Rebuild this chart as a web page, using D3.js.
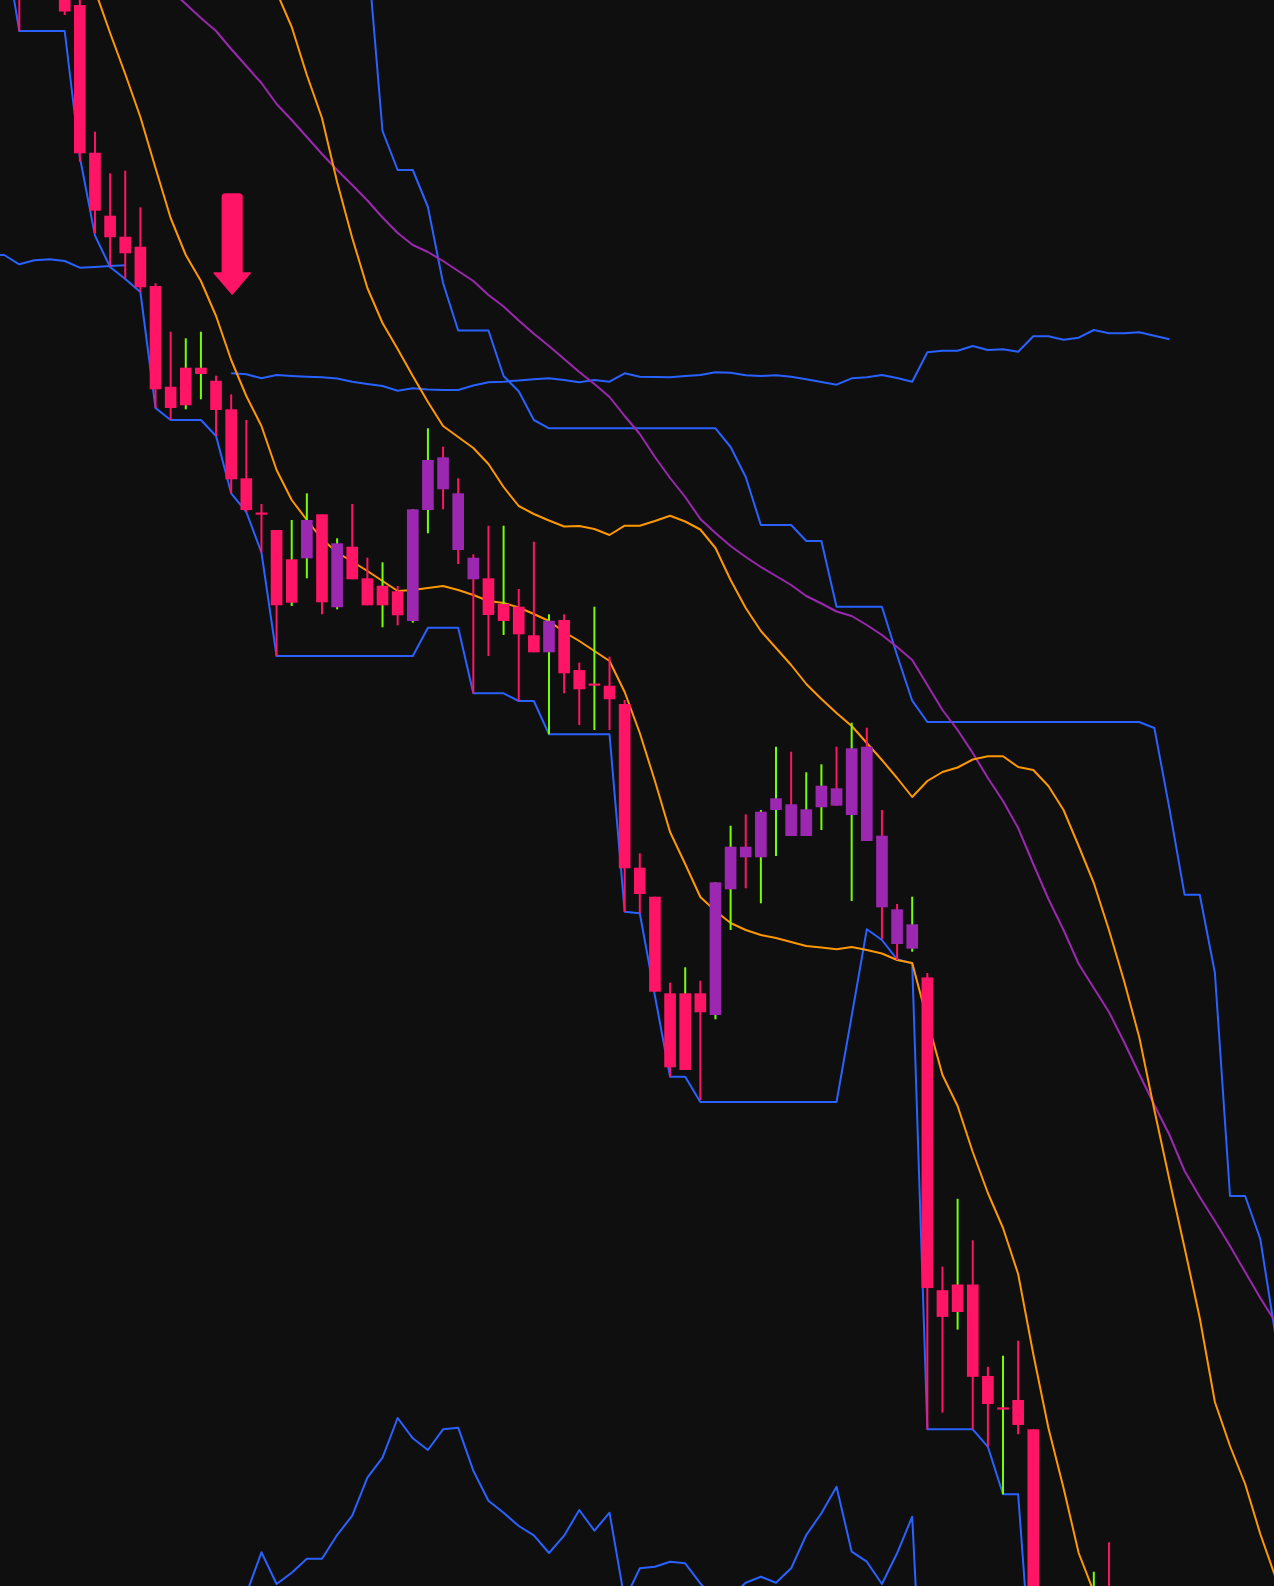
<!DOCTYPE html>
<html><head><meta charset="utf-8">
<script src="https://cdn.jsdelivr.net/npm/d3@7"></script>
<style>html,body{margin:0;padding:0;background:#0f0f0f;overflow:hidden}svg{display:block}</style>
</head><body>
<svg id="chart" width="1274" height="1586"></svg>
<script>
// ---------- DATA (bar index 0..72 for candles) ----------
const opens = [2080,2060,2040,2025,1995,1847.3,1784.3,1763.3,1753.3,1714,
1613.3,1632.3,1632.3,1619.3,1590.7,1521.7,1487.5,1470,1440.7,1441.7,
1485.7,1392.7,1453.3,1421.7,1414.3,1408.7,1379,1490,1510.7,1450,
1420.7,1421.7,1396,1393.3,1364.7,1347.7,1380,1330,1316.5,1314.3,
1296,1132.3,1103.3,1006.7,1006.7,1006.7,985,1110.7,1142.7,1142.7,
1190,1164,1164,1192.7,1194.3,1185,1159,1092.7,1056,1051.3,
1022.6,709.8,715.5,715.5,624,592.6,600,570.7,300,250,
230,390,380];
const highs = [2100,2090,2050,2035,2008,1868.3,1826.7,1829.3,1792.7,1716.7,
1668.3,1661.7,1668.3,1624.3,1605.7,1580,1496,1470,1480,1506.7,
1485.7,1461.7,1496,1442.3,1437.7,1414,1490.7,1571.7,1553.3,1521.7,
1445.7,1474.3,1474.3,1411,1458.3,1385.7,1385.7,1337.3,1393.3,1343.3,
1300,1146.7,1103.3,1017.3,1032.7,1019.3,1117.7,1174.3,1185.7,1190,
1253.3,1248.3,1227.7,1235.7,1253.3,1277.3,1272.3,1190,1096,1103.3,
1027,733.4,801.2,759.7,633.2,644.3,659.3,570.7,350,360,
380,428.3,457.7];
const lows = [1969,2010,2005,1985,1838.3,1766.7,1733.3,1721.7,1708,1592,
1580,1590.7,1600.7,1564,1506.7,1488,1447.5,1344,1394,1421.7,
1385.7,1390.7,1420.7,1394.7,1372.7,1374.7,1377.3,1466.7,1490.7,1436,
1306.7,1344,1365,1299,1347.7,1265.7,1306.7,1275,1270,1270,
1088,1086.7,1008.3,923.3,930,900,980.7,1070,1111.7,1096.7,
1144,1164,1164,1170,1194.3,1099,1159,1060.7,1040,1048.3,
570.7,587.3,670.4,570.7,553.2,505.7,565.7,280,200,180,
170,300,280];
const closes = [2040,2020,2015,1988.5,1846.7,1789.3,1762.7,1746.7,1712.7,1610.7,
1592,1594.7,1626,1590,1520.7,1490,1485.5,1394.7,1397.3,1480,
1397.7,1456.7,1420.7,1394.7,1394.7,1384.7,1490.7,1540,1542.7,1506.7,
1442.3,1385,1379,1365.7,1347.7,1379.3,1326.7,1310.7,1314.5,1300.7,
1131.7,1106,1008.3,932.7,930,987.7,1117.7,1153.3,1153.3,1188.3,
1201.7,1195.7,1190.7,1214.3,1211.7,1251.7,1253.3,1164.3,1090.7,1075.7,
712,683.1,688,623.2,596,590.8,575,300,240,220,
200,360,320];
// wick signal: 1 = up (green), 0 = down (pink)
const wickUp = [0,0,0,0,0,0,0,0,0,0,
0,1,1,0,0,0,0,0,1,1,
0,1,0,0,1,0,1,1,0,0,
0,0,1,0,0,1,0,0,1,0,
0,0,0,0,1,0,1,1,0,1,
1,0,1,1,0,1,0,0,0,1,
0,0,1,0,0,1,0,0,0,0,
0,1,0];

// Lines: each has a start bar index
const fastMAStart = 4;
const fastMA = [2060,2010,1967,1926,1883,1832,1782,1745,1719,1684,
1640,1604,1574,1530,1500,1480,1461,1447.5,1438.5,1429,
1419,1409,1410,1412,1414,1410,1405,1399,1397,1392.5,
1386,1379,1368,1359,1349,1339,1308,1267,1219,1168,
1136,1103,1089,1077,1070,1065,1062,1058,1054,1052.5,
1050.7,1053,1050,1046.5,1040,1037,980,925,894,848,
807,772,726,646,572,512,447,408,360];

const slowMAStart = 16;
const slowMA = [2045,2008,1973,1925,1882,1818,1762,1712,1677,1651,
1624,1598,1574,1563,1552,1536,1513,1494,1486,1479.5,
1473.5,1474,1471,1465,1474.3,1474.3,1479,1484.3,1478.5,1470.5,
1452,1420,1392,1369,1352,1335,1316,1301,1287,1274,
1257,1240,1222,1203,1219,1228,1232.5,1240.5,1243.7,1243.7,
1233,1230,1214,1190,1154,1117,1070,1019,963,890,
820,752,682,598,554,516,466,423];

const longMAStart = 9;
const longMA = [2025,2010,1996,1982,1969,1951,1934,1917,1896,1880,
1863,1846,1830,1815,1799.5,1782.5,1767,1755,1748,1739,
1729,1719,1705,1693.5,1679.5,1666.3,1654,1641,1628,1616,
1603,1584,1566,1543,1522,1503,1481,1467,1454,1443,
1433,1424,1415,1404,1396.5,1388.5,1384,1375,1365,1353,
1340,1315,1290,1270,1247,1222,1199,1172,1136,1101,
1070,1036,1012,988,958,926,895,865,829,803,
779,754,728,702,678];

const upperBandStart = 22;
const upperBand = [2150,2050,1869,1830,1830,1793,1717,1669.5,1669.5,1669.5,
1624,1608.7,1580,1571.7,1571.7,1571.7,1571.7,1571.7,1571.7,1571.7,
1571.7,1571.7,1571.7,1571.7,1571.7,1553,1523,1475,1475,1475,
1459,1459,1393.3,1393.3,1393.3,1393.3,1344.8,1299.3,1278,1278,
1278,1278,1278,1278,1278,1278,1278,1278,1278,1278,
1278,1278,1278,1272,1191.1,1105.2,1105.2,1027.3,804,804,
761,665];

const lowerBandStart = -1;
const lowerBand = [2060,1969,1969,1969,1969,1843,1764.4,1733,1721,1708,
1592,1580,1580,1580,1564,1506.7,1488,1447.5,1344,1344,
1344,1344,1344,1344,1344,1344,1344,1344,1372.3,1372.3,
1372.3,1306.7,1306.7,1306.7,1299,1299,1265.7,1265.7,1265.7,1265.7,
1265.7,1088.3,1086.7,1004,923.3,923.3,898,898,898,898,
898,898,898,898,898,898,984,1070.7,1060,1040.7,
1036.6,570.7,570.7,570.7,570.7,553.2,505.7,505.7,300,280,
270,260];

// baseline line (null = gap)
const baseLineStart = -2;
const baseLine = [1745,1745,1735.7,1739.7,1740.7,1739,1732.3,1733,1734,1734.7,
null,null,null,null,null,null,
1626.7,1625.7,1621.7,1625,1624,1623.3,1622.7,1621.5,1618.3,1616,
1614,1609.3,1611.7,1610.5,1610,1610,1614.5,1617.7,1618.3,1619.5,
1620.7,1621.7,1620,1617.7,1620,1618.3,1626.7,1623.3,1623,1622.7,
1624,1625,1627.7,1627.3,1624.7,1624,1624.7,1623.3,1620.7,1618,
1615.3,1621.7,1622.7,1625,1622,1618.3,1647.7,1649.3,1649.3,1654,
1650,1650.7,1648.3,1663.7,1663.7,1660.3,1662.3,1670,1666.7,1666.7,
1667.7,1664.3,1660.7];

const oscStart = 13;
const osc = [380,370,406,447.7,416,427.3,441.3,441.3,465,484.3,
522.3,542.3,582,561.7,550,570.7,572.3,529.3,499.3,487.3,
474,464.7,447,464.3,490,469.3,487.3,400,431.7,433.3,
438.3,436.7,416.7,400,403,417.3,423.3,417.3,431.7,465,
486.7,513.3,448.3,438.3,416,446.7,483.3,180,190,175,
185,170,160,150];

// sell signal marker
const signalBars = [14];
const signalPrices = [1706];

// ---------- CHART ----------
const W = 1274, H = 1586;
const svg = d3.select('#chart');
svg.append('rect').attr('width', W).attr('height', H).attr('fill', '#0f0f0f');

const x = d3.scaleLinear().domain([0, 83]).range([19.3, 19.3 + 15.134 * 83]);
const y = d3.scaleLinear().domain([2000, 414]).range([0, 1586]);
const step = x(1) - x(0);
const bodyW = step * 0.77;

const COL = {pink:'#ff1466', purple:'#9c27b0', green:'#76ff03', blue:'#2962ff', orange:'#ff9800'};

function toPts(start, arr){ return arr.map((v,k)=>({i:start+k, v:v})); }
const line = d3.line().defined(d => d.v != null).x(d => x(d.i)).y(d => y(d.v));

const gLines = svg.append('g');
const series = [
  {s: baseLineStart, a: baseLine, c: COL.blue},
  {s: oscStart, a: osc, c: COL.blue},
  {s: upperBandStart, a: upperBand, c: COL.blue},
  {s: lowerBandStart, a: lowerBand, c: COL.blue},
  {s: longMAStart, a: longMA, c: COL.purple},
  {s: slowMAStart, a: slowMA, c: COL.orange},
  {s: fastMAStart, a: fastMA, c: COL.orange}
];
series.forEach(sr => {
  gLines.append('path').datum(toPts(sr.s, sr.a))
    .attr('d', line).attr('fill', 'none').attr('stroke', sr.c)
    .attr('stroke-width', 2).attr('stroke-linejoin', 'round');
});

const candles = opens.map((o,i)=>({i, o, h: highs[i], l: lows[i], c: closes[i], up: wickUp[i]}));
const gC = svg.append('g');
gC.selectAll('line.wick').data(candles).join('line')
  .attr('class','wick')
  .attr('x1', d => x(d.i)).attr('x2', d => x(d.i))
  .attr('y1', d => y(d.h)).attr('y2', d => y(d.l))
  .attr('stroke', d => d.up ? COL.green : COL.pink)
  .attr('stroke-width', 2);
gC.selectAll('rect.body').data(candles).join('rect')
  .attr('class','body')
  .attr('x', d => x(d.i) - bodyW/2)
  .attr('width', bodyW)
  .attr('y', d => y(Math.max(d.o, d.c)))
  .attr('height', d => Math.max(2.2, Math.abs(y(d.o) - y(d.c))))
  .attr('fill', d => d.c > d.o ? COL.purple : COL.pink);

// sell arrows
signalBars.forEach((b, k) => {
  const cx = x(b) + 1, tip = y(signalPrices[k]);
  const top = tip - 100, base = tip - 21, sw = 9.8, hw = 18, r = 3;
  const p = `M${cx-sw},${top+r} Q${cx-sw},${top} ${cx-sw+r},${top} L${cx+sw-r},${top} Q${cx+sw},${top} ${cx+sw},${top+r}
    L${cx+sw},${base} L${cx+hw},${base} L${cx},${tip} L${cx-hw},${base} L${cx-sw},${base} Z`;
  svg.append('path').attr('d', p).attr('fill', COL.pink)
    .attr('stroke', COL.pink).attr('stroke-width', 1.5).attr('stroke-linejoin', 'round');
});
</script>
</body></html>
